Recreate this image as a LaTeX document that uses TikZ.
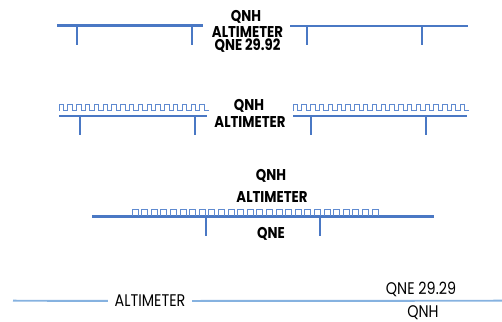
\documentclass[tikz,border=0pt]{standalone}
\usepackage{fontspec}
\usepackage{tikz}
\usetikzlibrary{positioning}
\newfontfamily\gothfont[FakeStretch=0.85]{Poppins}
\definecolor{barblue}{HTML}{4A78C4}
\definecolor{waveblue}{HTML}{5F8AD0}
\definecolor{liteblue}{HTML}{86B2E0}

\begin{document}
\begin{tikzpicture}[x=0.02cm, y=-0.02cm,
  bar/.style={barblue, line width=1.3pt},
  hang/.style={barblue, line width=1.1pt},
  wave/.style={waveblue, line width=0.5pt},
  lite/.style={liteblue, line width=1.1pt},
  tag/.style={inner sep=0pt, font=\gothfont\bfseries\fontsize{8.9}{9}\selectfont},
  plain/.style={inner sep=0pt, font=\gothfont\fontsize{9.6}{10}\selectfont}
]
  \useasboundingbox (0,0) rectangle (502,321);

  % first row: plain scales
  \draw[bar] (57,25.5) -- (203,25.5);
  \draw[bar] (290,26) -- (468,26);
  \foreach \x in {77,192,307,422}
    \draw[hang] (\x,25.5) -- (\x,45);
  \node[tag] (qnh1) at (246,17) {QNH};
  \node[tag] (alt1) at (247.5,32.5) {ALTIMETER};
  \node[tag] (qne1) at (247.5,46) {QNE 29.92};

  % second row: scales with square wave
  \draw[bar] (59,116) -- (207,116);
  \draw[bar] (293,116) -- (467,116);
  \foreach \x in {80,195,311,426}
    \draw[hang] (\x,116) -- (\x,135);
  \draw[wave] (59,110.5) \foreach \k in {0,...,16} {-- ++(0,-6) -- ++(4.4,0) -- ++(0,6) -- ++(4.4,0)};
  \draw[wave] (293,110.5) \foreach \k in {0,...,19} {-- ++(0,-6) -- ++(4.4,0) -- ++(0,6) -- ++(4.4,0)};
  \node[tag] (qnh2) at (249,106) {QNH};
  \node[tag] (alt2) at (250,122.5) {ALTIMETER};

  % third row: one scale with pulses
  \draw[bar] (92,216.5) -- (434,216.5);
  \foreach \x in {206,320}
    \draw[hang] (\x,216.5) -- (\x,236);
  \foreach \k in {0,...,25}
    \draw[wave] (132+\k*9.6,215.5) -- ++(0,-6) -- ++(6,0) -- ++(0,6);
  \node[tag] (qnh3) at (271,176) {QNH};
  \node[tag] (alt3) at (272,197) {ALTIMETER};
  \node[tag] (qne3) at (271,234) {QNE};

  % bottom line
  \coordinate (west) at (13,300.7);
  \coordinate (east) at (502,300.7);
  \node[plain, inner xsep=3.6pt] (alt4) at (150,301) {ALTIMETER};
  \draw[lite] (west) -- (alt4);
  \draw[lite] (alt4) -- (east);
  \node[plain] (qne4) at (421,289) {QNE 29.29};
  \node[plain] (qnh4) at (423,312.5) {QNH};
\end{tikzpicture}
\end{document}
